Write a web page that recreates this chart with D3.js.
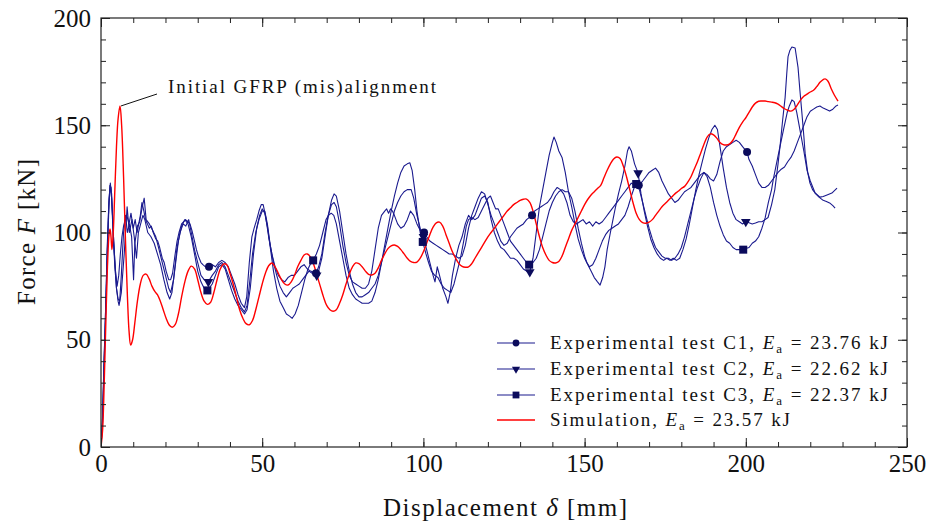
<!DOCTYPE html>
<html><head><meta charset="utf-8">
<script src="https://cdn.jsdelivr.net/npm/d3@7"></script>
<style>body{margin:0;background:#fff;} svg{display:block;font-family:"Liberation Serif","DejaVu Serif",serif;}</style>
</head><body><svg id="chart" width="931" height="524"></svg>
<script>
// ---------- data ----------
const xTicks = [0, 50, 100, 150, 200, 250];
const yTicks = [0, 50, 100, 150, 200];
const xMinor = [0,10,20,30,40,50,60,70,80,90,100,110,120,130,140,150,160,170,180,190,200,210,220,230,240,250];
const yMinor = [0,10,20,30,40,50,60,70,80,90,100,110,120,130,140,150,160,170,180,190,200];
const legendLabels = [
  {pre: "Experimental test C1, ", val: "23.76"},
  {pre: "Experimental test C2, ", val: "22.62"},
  {pre: "Experimental test C3, ", val: "22.37"},
  {pre: "Simulation, ", val: "23.57"}
];
const annotationText = "Initial GFRP (mis)alignment";

const c1 = [
[0,0],[0.4,10],[0.9,38],[1.4,62],[1.9,90],[2.4,112],[2.8,122],[3.1,121],[3.5,110],[4,94],[4.5,82],[5,75],[5.5,80],[6,90],[6.5,98],[7,103],[7.5,106],[8,108],[8.7,104],[9.3,109],[10,102],[10.6,106],[11.2,100],[11.7,104],[12.2,108],[12.7,114],[13.3,110],[13.8,106],[14.4,104],[15,102],[15.6,103],[16.2,100],[17,97],[17.6,96],[18.2,93],[19,88],[19.6,86],[20.2,82],[21,78],[21.6,78],[22.2,81],[23,90],[23.6,96],[24.2,100],[25,104],[25.6,105],[26.2,106],[27,105],[27.6,104],[28.2,101],[29,96],[29.6,92],[30.2,89],[31,86],[31.6,85],[32.4,84],[33.5,84],
[34.5,85],[35.5,84],[36.5,86],[37.5,87],[38.5,86],[39.5,84],[40.5,80],[41.5,76],[42.5,71],[43.5,67],[44.5,65],[45.2,70],[46,86],[46.8,98],[47.5,102],[48.3,106],[49,110],[49.7,113],[50.3,113],[51,108],[52,98],[53,90],[54,84],[55,80],[56,78],[57,77],[58,79],[59,80],[60,80],[61,82],[62,84],[63,85],[64,83],[65,82],[66.7,81],
[67.5,84],[68.5,90],[69.5,100],[70.5,108],[71.5,113],[72.3,114],[73,112],[74,104],[75,94],[76,86],[77,80],[78,77],[79,76],[80,75],[81,74],[82,74],[83,76],[84,82],[85,92],[86,102],[87,108],[88,110],[88.6,111],[89.2,109],[89.8,111],[90.4,110],[91,108],[92,104],[93,102],[94,103],[95,106],[96,110],[97,108],[98,104],[99,101],[100.2,100],
[101,98],[102,96],[103,95],[104,94],[105,93],[106,92],[107,91],[108,90],[109,90],[110,89],[111,88],[112,89],[113,94],[114,102],[115,108],[116,112],[117,116],[118,119],[119,118],[120,113],[121,108],[122,104],[123,100],[124,96],[125,94],[126,95],[127,98],[128,100],[129,102],[130,103],[131,104],[132,106],[133.7,108],
[134.5,110],[135.5,111],[136.5,112],[137.5,113],[138.5,114],[139.5,116],[140.5,119],[141.5,121],[142.5,120],[143.5,118],[144.5,114],[145.5,108],[146.5,105],[147.5,104],[148.5,105],[149.5,106],[150.5,104],[151.5,105],[152.5,103],[153.5,105],[154.5,104],[155.5,105],[156.5,107],[157.5,109],[158.5,111],[159.5,113],[160.5,115],[161.5,117],[162.5,119],[163.5,121],[164.5,123],[165.5,122],[166.8,122],[168,124],[169,126],[170,128],[171,129],[172,130],[173,128],[174,124],[175,121],[176,118],[177,116],[178,114],[179,115],[180,117],[181,119],[182,120],[183,121],[184,123],[185,125],[186,127],[187,128],[188,127],[189,125],[190,124],[191,127],[192,133],[193,138],[194,140],[195,141],[196,142],[197,143],[198,142],[199,140],[200.4,137.5],
[201,134],[202,131],[203,127],[204,123],[205,121],[206,121],[207,122],[208,124],[209,126],[210,128],[211,129.5],[212,130.5],[213,133],[214,135],[215,138],[216,142],[217,146],[218,150],[219,154],[220,156.5],[221,157.5],[222,158.5],[223,159],[224,158],[225,157.3],[226,156.6],[227,157.5],[228,159],[228.6,159.4]
];

const c2 = [
[0,0],[0.5,14],[1,42],[1.5,68],[2,96],[2.5,116],[2.9,123],[3.3,116],[3.8,98],[4.3,84],[4.8,74],[5.3,69],[5.8,68],[6.3,80],[7,100],[7.6,108],[8.2,100],[8.8,104],[9.5,98],[10.1,78],[10.5,95],[11.3,103],[12,105],[12.8,112],[13.4,116],[14,106],[15,104],[16,101],[17,98],[18,92],[19,86],[20,80],[21,74],[21.6,72],[22.5,78],[23.5,92],[24.5,100],[25.5,104],[26.3,103],[27.2,106],[28,100],[29,92],[30,86],[31,80],[32,78],[33.3,77],
[34.5,80],[35.5,82],[36.5,85],[37.5,86],[38.5,84],[39.5,80],[40.5,76],[41.5,72],[42.5,68],[43.5,65],[44.5,63],[45.3,66],[46.2,78],[47,90],[48,100],[49,106],[50,110],[50.8,110],[51.6,104],[52.5,94],[53.5,86],[54.5,80],[55.5,75],[56.5,72],[57.5,70],[58.5,72],[59.5,74],[60.5,75],[61.5,76],[62.5,78],[63.5,80],[64.5,82],[65.5,81],[66.9,80],
[67.5,82],[68.5,88],[69.5,98],[70.5,108],[71.5,115],[72.3,118],[73,117],[74,110],[75,100],[76,90],[77,82],[78,76],[79,72],[80,70],[81,70],[82,71],[83,72],[84,74],[85,76],[86,80],[87,86],[88,92],[89,98],[90,104],[91,110],[92,114],[93,117],[94,119],[95,120],[96.2,120],[97,116],[98,108],[99,102],[100,98],
[101,92],[102,86],[103,80],[103.6,77],[104.3,84],[105,80],[106,74],[107,70],[107.6,67],[108.3,72],[109,80],[110,88],[111,94],[112,98],[113,104],[114,108],[115,106],[116,108],[117,112],[118,116],[119,117],[120,114],[121,106],[122,100],[123,96],[124,93],[125,92],[126,90],[127,88],[128,88],[129,87],[130,85],[131,83],[132,82],[133,81.6],
[134,88],[135,100],[136,112],[137,120],[138,128],[139,136],[140,142],[140.5,144.5],[141.2,142],[142,138],[143,135],[144,128],[145,119],[146,112],[147,104],[148,97],[149,92],[150,88],[151,85],[152,82],[153,79],[154,77],[154.8,75.5],[155.6,79],[156.3,84],[157,92],[158,100],[158.8,106],[159.6,112],[160.5,118],[161.5,124],[162.5,131],[163.3,138],[163.8,140],[164.5,138],[165.5,132],[166.6,127.7],[167.5,118],[168.5,110],[169.5,103],[170.5,97],[171.5,93],[172.5,90],[173.5,88],[174.5,87],[175.5,88],[176.5,87],[177.5,88],[178.5,87],[179.5,88],[180.5,92],[181.5,97],[182.5,104],[183.5,112],[184.5,120],[185.5,127],[186.5,133],[187.5,139],[188.5,144],[189.5,148],[190.4,150],[191.2,148],[192,140],[193,130],[194,121],[195,114],[196,109],[197,106],[198,105],[199,104],[200,105],
[201,104.5],[202,104],[203,104.4],[204,105],[205,105],[206,106],[206.9,107],[208,113],[209,120],[210,132],[210.6,140],[211.4,152],[212.2,163],[212.7,174],[213.1,182],[213.7,185],[214.3,186.5],[215.3,186],[216.2,177],[216.8,166],[217.4,155.7],[218,145],[218.4,137],[219.2,128],[219.9,123],[220.7,120],[221.5,118.4],[223,116.5],[224,116.8],[225.2,117.5],[226.7,118.4],[228.3,120.7]
];

const c3 = [
[0,0],[0.5,12],[1,40],[1.5,64],[2,92],[2.5,114],[2.9,122],[3.3,118],[3.8,100],[4.3,86],[4.8,74],[5.3,68],[5.6,66],[6.3,72],[7.2,90],[8.1,112],[8.8,100],[9.6,106],[10.3,98],[11,88],[11.6,100],[12.3,104],[13,108],[13.6,106],[14.5,100],[15.5,98],[16.5,95],[17.5,90],[18.5,85],[19.5,78],[20.5,72],[21.3,69],[22,72],[23,84],[24,96],[25,103],[26,106],[27,104],[28,98],[29,90],[30,82],[31,77],[32,74],[33,73],
[34.5,76],[35.5,80],[36.5,84],[37.5,85],[38.5,83],[39.5,78],[40.5,73],[41.5,69],[42.5,66],[43.5,64],[44.5,62],[45.3,64],[46.3,74],[47.3,90],[48.3,102],[49.2,108],[50,111],[50.8,109],[51.7,102],[52.6,92],[53.5,82],[54.5,74],[55.5,68],[56.5,65],[57.5,62],[58.5,61],[59.3,60],[60.2,62],[61.2,66],[62.2,72],[63.2,78],[64.2,83],[65.2,86],[65.8,87],
[66.8,90],[67.8,94],[68.8,100],[69.8,106],[70.6,108],[71.4,109],[72.2,108],[73,104],[74,96],[75,88],[76,80],[77,74],[78,71],[79,69],[80,68],[81,67],[82,67],[83,67],[84,68],[85,72],[86,78],[87,86],[88,94],[89,102],[90,110],[91,117],[92,123],[93,128],[94,131],[95,132],[95.8,132.5],[96.5,129],[97.3,120],[98,110],[99,100],[99.8,95.6],
[100.8,90],[101.6,86],[102.5,82],[103.5,80],[104.5,79],[105.5,76],[106.5,74],[107.5,73],[108.5,72],[109.5,76],[110.5,82],[111.5,88],[112.5,96],[113.3,103],[114,106],[115,107],[116,106],[117,107],[118,110],[119,113],[120,116],[120.8,117],[121.6,114],[122.4,111],[123.2,111],[124,108],[125,104],[126,100],[127,96],[128,94],[129,92],[130,90],[131,88],[132,86],[132.8,85],
[134,86],[135,88],[136,92],[137,98],[138,104],[139,110],[140,114],[141,117],[142,119],[143,120],[144,119],[145,119],[146,116],[147,110],[148,102],[149,95],[150,89],[150.7,86],[151.5,84],[152.5,85],[153.5,88],[154.5,92],[155.5,96],[156.5,99],[157.5,101],[158.5,102],[159.5,103],[160.5,104],[161.5,106],[162.5,108],[163.5,112],[164.5,117],[165.4,121],[166,122.6],[167,120],[168,114],[169,108],[170,102],[171,97],[172,93],[173,91],[174,89],[175,88],[176,88],[177,87],[178,88],[179,90],[180,93],[181,98],[182,104],[183,110],[184,116],[185,121],[186,125],[187,128],[188,126],[189,121],[190,114],[191,108],[192,103],[193,99],[194,96],[195,95],[196,93],[197,92],[198,92],[199.2,92],
[200,92.5],[201,93],[202,95],[203,96],[204,98],[205,102],[206,106.8],[207,114],[208,120],[208.5,124.5],[209.5,132],[210.6,140],[211.7,148],[212.8,155.7],[213.5,159],[214.3,161.8],[215,161],[215.8,156],[216.8,147.8],[218,138],[219,129],[220,124],[221.5,118.4],[222.7,116.5],[224,115],[225,114.5],[226,113.8],[227,112.5],[227.7,111.4]
];

const sim = [
[0,0],[0.5,8],[1,30],[1.5,58],[2,84],[2.5,99],[2.8,101.6],[3.1,98],[3.4,92],[3.8,100],[4.3,120],[4.8,140],[5.3,153],[5.9,159],[6.4,150],[7,126],[7.6,96],[8.2,70],[8.7,54],[9.2,47.5],[9.8,50],[10.5,58],[11.3,68],[12.2,76],[13.1,80],[14,80.6],[14.9,78.5],[15.8,75],[16.7,72.5],[17.5,71],[18.4,68],[19.3,64],[20.2,60],[21.1,57],[22.1,55.8],[23,57],[24,62],[25,70],[26,77],[27,82],[28,84.3],[29,83],[30,78],[31,72],[32,68],[33,66.5],[34,67.5],[35,72],[36,78],[37,83],[38,85.3],[39,85],[40,81],[41,76],[42,70],[43,64],[44,60],[45,57.5],[46,57],[47,59],[48,64],[49,70],[50,76],[51,81],[52,84.5],[53,85.8],[54,84],[55,81],[56,78],[57,76],[58,75.5],[59,77],[60,80],[61,84],[62,87],[63,89.5],[64,90],[65,88.5],[66,85],[67,80],[68,75],[69,70],[70,66],[71,64],[72,63.3],[73,64],[74,67],[75,71],[76,76],[77,80.5],[78,84],[79,85.8],[80,85.5],[81,84],[82,82],[83,80.5],[84,80.2],[85,81],[86,83.5],[87,87],[88,90],[89,92.5],[90,93.8],[91,94.2],[92,93.5],[93,92],[94,90],[95,88],[96,86.5],[97,86],[98,86.2],[99,88],[100,91],[101,95],[102,99],[103,102.5],[104,104.5],[105,104.8],[106,103],[107,99],[108,95],[109,91],[110,88],[111,85.5],[112,84.2],[113,83.8],[114,84],[115,85.5],[116,88],[117,90.5],[118,93],[119,95.5],[120,98],[121,100],[122,102],[123,104],[124,106],[125,108],[126,110],[127,111.5],[128,113],[129,114],[130,115],[131,115.5],[132,115.6],[133,114],[134,110],[135,104],[136,98],[137,93],[138,89.5],[139,87],[140,86],[141,85.8],[142,86.5],[143,89],[144,93],[145,97],[146,101],[147,104],[148,107],[149,110],[150,113],[151,115.5],[152,117.5],[153,119],[154,120.5],[155,122],[156,125.5],[157,129],[158,132],[159,134.3],[160,135.2],[161,134.5],[162,131],[163,126],[164,120],[165,114],[166,109],[167,106],[168,104.6],[169,104.3],[170,104.8],[171,106],[172,108],[173,110],[174,112],[175,113.5],[176,115],[177,116.5],[178,118],[179,119.2],[180,120.5],[181,121.5],[182,123.5],[183,126],[184,129.5],[185,133],[186,137],[187,141],[188,144.5],[189,146],[190,145.5],[191,144],[192,142],[193,141],[194,140.8],[195,141.3],[196,143],[197,146],[198,149],[199,151.5],[200,153.5],[201,156],[202,158.5],[203,160.3],[204,161.2],[205,161.3],[206,161.3],[207,161],[208,160.8],[209,160.5],[210,159.8],[211,158.8],[212,157.7],[213,157],[214,156.6],[215,157.5],[216,159.5],[217,161.8],[218,163.5],[219,164.5],[220,165.5],[221,166.3],[222,168],[223,170],[224,171.3],[224.6,171.6],[225.5,170.5],[226.5,167],[227.5,164],[228.6,161.3]
];

const c1Markers = [[33.5,84],[66.7,81],[100.2,100],[133.7,108],[166.8,122],[200.4,137.5]];
const c2Markers = [[33.3,77],[66.9,80],[100,98],[133,81.6],[166.6,127.7],[200,105]];
const c3Markers = [[33,73],[65.8,87],[99.8,95.6],[132.8,85],[166,122.6],[199.2,92]];
const annotationPoint = [5.9, 159];

// ---------- drawing ----------
const svg = d3.select("#chart");
const L = 101, R = 907, T = 18, B = 447;
const x = d3.scaleLinear().domain([0, 250]).range([L, R]);
const y = d3.scaleLinear().domain([0, 200]).range([B, T]);
const blue = "#1a1a8e", markerCol = "#0b0b5c", red = "#ff0000";

const defs = svg.append("defs");
defs.append("clipPath").attr("id","clip").append("rect").attr("x",L).attr("y",T).attr("width",R-L).attr("height",B-T);

const plot = svg.append("g").attr("clip-path","url(#clip)");
const line = d3.line().x(d=>x(d[0])).y(d=>y(d[1]));
const smooth = d3.line().x(d=>x(d[0])).y(d=>y(d[1])).curve(d3.curveCatmullRom);

[c1, c2, c3].forEach(s => {
  plot.append("path").attr("d", line(s)).attr("fill","none").attr("stroke",blue).attr("stroke-width",1.1).attr("stroke-linejoin","round");
});
plot.append("path").attr("d", smooth(sim)).attr("fill","none").attr("stroke",red).attr("stroke-width",1.4);

function drawMarker(g, kind, cx, cy, s) {
  s = s || 1;
  if (kind === 0) g.append("circle").attr("cx",cx).attr("cy",cy).attr("r",4*s).attr("fill",markerCol);
  else if (kind === 1) g.append("path").attr("d", d3.symbol().type(d3.symbolTriangle).size(40*s*s)()).attr("transform",`translate(${cx},${cy}) rotate(180)`).attr("fill",markerCol);
  else if (kind === 2) g.append("rect").attr("x",cx-4*s).attr("y",cy-4*s).attr("width",8*s).attr("height",8*s).attr("fill",markerCol);
}
const mg = svg.append("g");
[c1Markers, c2Markers, c3Markers].forEach((arr, k) => arr.forEach(p => drawMarker(mg, k, x(p[0]), y(p[1]))));

// axes
function addAxis(axisFn, scale, vals, size, transform, labels, pad) {
  const a = axisFn(scale).tickValues(vals).tickSize(-size).tickPadding(pad);
  if (!labels) a.tickFormat("");
  const g = svg.append("g").attr("transform", transform).call(a);
  g.select(".domain").remove();
  g.selectAll(".tick line").attr("stroke","#222").attr("stroke-width",1);
  g.selectAll("text").attr("font-size",25).attr("fill","#111").attr("font-family","Liberation Serif, serif");
  return g;
}
addAxis(d3.axisBottom, x, xMinor, 5, `translate(0,${B})`, false, 0);
addAxis(d3.axisBottom, x, xTicks, 9, `translate(0,${B})`, true, 7);
addAxis(d3.axisTop, x, xMinor, 5, `translate(0,${T})`, false, 0);
addAxis(d3.axisTop, x, xTicks, 9, `translate(0,${T})`, false, 0);
addAxis(d3.axisLeft, y, yMinor, 5, `translate(${L},0)`, false, 0);
addAxis(d3.axisLeft, y, yTicks, 9, `translate(${L},0)`, true, 10);
addAxis(d3.axisRight, y, yMinor, 5, `translate(${R},0)`, false, 0);
addAxis(d3.axisRight, y, yTicks, 9, `translate(${R},0)`, false, 0);

svg.append("rect").attr("x",L).attr("y",T).attr("width",R-L).attr("height",B-T).attr("fill","none").attr("stroke","#222").attr("stroke-width",1.2);

// axis titles
const xt = svg.append("text").attr("x",505).attr("y",516).attr("text-anchor","middle").attr("font-size",25).attr("fill","#111")
  .attr("textLength",244).attr("lengthAdjust","spacing");
xt.append("tspan").text("Displacement ");
xt.append("tspan").attr("font-style","italic").text("δ");
xt.append("tspan").text(" [mm]");
const yt = svg.append("text").attr("transform",`translate(35,232) rotate(-90)`).attr("text-anchor","middle").attr("font-size",25).attr("fill","#111")
  .attr("textLength",146).attr("lengthAdjust","spacing");
yt.append("tspan").text("Force ");
yt.append("tspan").attr("font-style","italic").text("F");
yt.append("tspan").text(" [kN]");

// annotation
const ap = [x(annotationPoint[0]), y(annotationPoint[1])];
svg.append("line").attr("x1",ap[0]+1).attr("y1",ap[1]).attr("x2",157).attr("y2",94).attr("stroke","#111").attr("stroke-width",1);
svg.append("text").attr("x",168).attr("y",93).attr("font-size",19).attr("fill","#111")
  .attr("textLength",268).attr("lengthAdjust","spacing").text(annotationText);

// legend
const lg = svg.append("g");
const rowY = [343, 369, 395, 420];
const rowLen = [338, 338, 338, 240];
legendLabels.forEach((d, i) => {
  const yy = rowY[i];
  lg.append("line").attr("x1",497).attr("x2",535).attr("y1",yy).attr("y2",yy).attr("stroke", i<3?blue:red).attr("stroke-width", i<3?1.1:1.4);
  if (i < 3) drawMarker(lg, i, 516, yy, 0.85);
  const t = lg.append("text").attr("x",550).attr("y",yy+6).attr("font-size",19).attr("fill","#111")
    .attr("textLength",rowLen[i]).attr("lengthAdjust","spacing");
  t.append("tspan").text(d.pre);
  t.append("tspan").attr("font-style","italic").text("E");
  t.append("tspan").attr("font-size",13).attr("dy",4).text("a");
  t.append("tspan").attr("dy",-4).text(" = " + d.val + " kJ");
});
</script>
</body></html>
